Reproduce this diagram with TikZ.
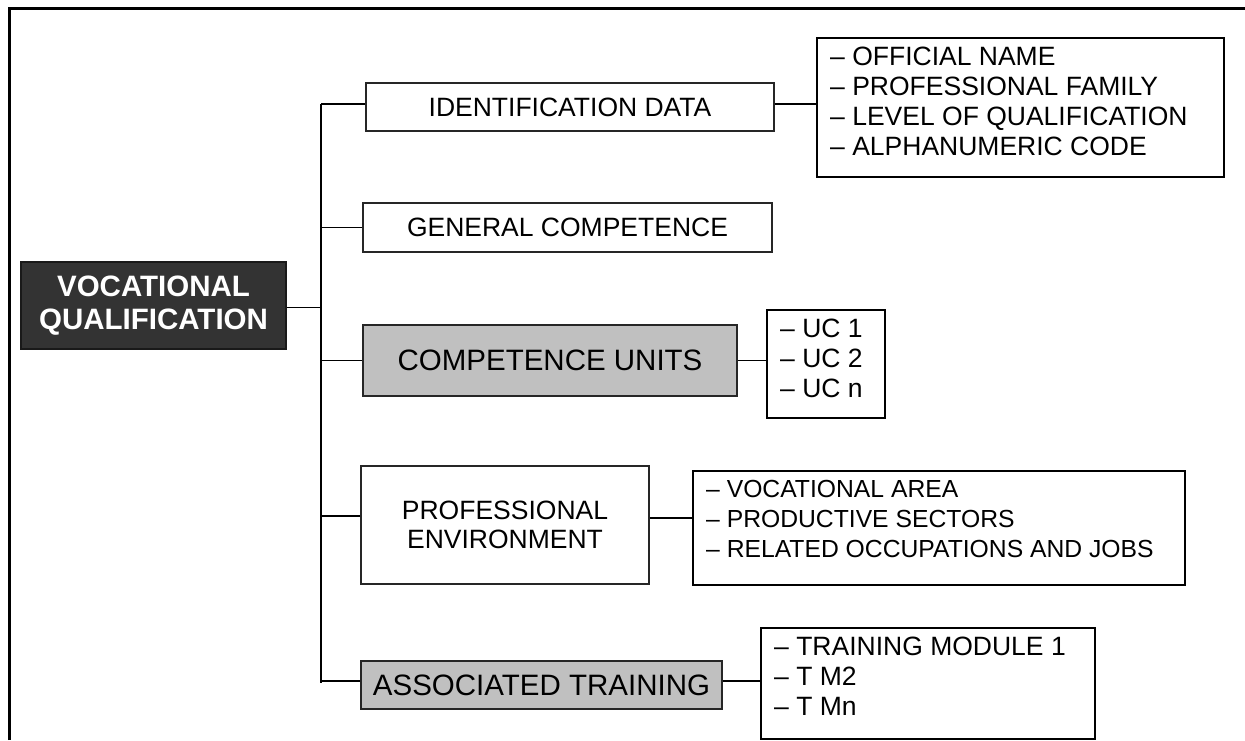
\documentclass[tikz,border=0pt]{standalone}
\usepackage{fontspec}
\setmainfont{Liberation Sans}
\definecolor{cellgray}{HTML}{C0C0C0}
\definecolor{darkfill}{HTML}{333333}
\newcommand{\blist}[3]{\begin{minipage}[c][#2][t]{#1}\raggedright\leftskip=13pt\relax\vspace*{9pt}#3\end{minipage}}
\begin{document}
\begin{tikzpicture}[x=1pt,y=-1pt,
  box/.style={draw=black!85, line width=1.6pt, rectangle, inner sep=0pt, align=center,
              font=\fontsize{26.5}{29}\selectfont},
  bigbox/.style={box, fill=cellgray, font=\fontsize{29.5}{33}\selectfont},
  rootbox/.style={draw=black!90, line width=1.6pt, fill=darkfill, text=white, inner sep=0pt,
              align=center, font=\fontsize{29.5}{33}\bfseries\selectfont},
  listbox/.style={draw=black, line width=2.4pt, rectangle, inner sep=0pt, anchor=north west,
              font=\fontsize{26.5}{30}\selectfont},
  smalllist/.style={listbox, font=\fontsize{24.7}{30}\selectfont},
  conn/.style={line width=1.8pt, draw=black},
  frameline/.style={line width=3pt, draw=black}
]
\useasboundingbox (0,0) rectangle (1245,740);
\draw[frameline] (9,740) -- (9,8) -- (1245,8);

% root
\node[rootbox, minimum width=265pt, minimum height=87pt] (vq) at (153.5,305.5) {\raisebox{3pt}{\parbox{250pt}{\centering VOCATIONAL\\QUALIFICATION}}};

% branch boxes
\node[box, minimum width=408pt, minimum height=48pt] (id) at (570,107) {IDENTIFICATION DATA};
\node[box, minimum width=409pt, minimum height=49pt] (gc) at (567.5,227.5) {GENERAL COMPETENCE};
\node[bigbox, minimum width=374pt, minimum height=71pt] (cu) at (550,360.5) {COMPETENCE UNITS};
\node[box, minimum width=288pt, minimum height=118pt] (pe) at (505,525) {PROFESSIONAL\\ENVIRONMENT};
\node[bigbox, minimum width=361pt, minimum height=48pt] (at) at (541.5,685) {ASSOCIATED TRAINING};

% list boxes
\node[listbox] (idl) at (816,37) {\blist{407pt}{139pt}{– OFFICIAL NAME\\– PROFESSIONAL FAMILY\\– LEVEL OF QUALIFICATION\\– ALPHANUMERIC CODE}};
\node[listbox] (cul) at (766,309) {\blist{118pt}{108pt}{– UC 1\\– UC 2\\– UC n}};
\node[smalllist] (pel) at (692,470) {\blist{492pt}{114pt}{– VOCATIONAL AREA\\– PRODUCTIVE SECTORS\\– RELATED OCCUPATIONS AND JOBS}};
\node[listbox] (atl) at (760,627) {\blist{334pt}{111pt}{– TRAINING MODULE 1\\– T M2\\– T Mn}};

% spine
\coordinate (sT) at (321,104);
\coordinate (sB) at (321,683);
\draw[conn] (sT) -- (sB);

% connectors to spine
\draw[conn] ([yshift=-2pt]vq.east) -- ([yshift=-2pt]vq.east -| sT);
\draw[conn] ([yshift=3pt]id.west) -- ([yshift=3pt]id.west -| sT);
\draw[conn] (gc.west) -- (gc.west -| sT);
\draw[conn] (cu.west) -- (cu.west -| sT);
\draw[conn] ([yshift=9pt]pe.west) -- ([yshift=9pt]pe.west -| sT);
\draw[conn] ([yshift=4pt]at.west) -- ([yshift=4pt]at.west -| sT);

% connectors to lists
\draw[conn] ([yshift=3pt]id.east) -- ([yshift=3pt]id.east -| idl.west);
\draw[conn] (cu.east) -- (cu.east -| cul.west);
\draw[conn] ([yshift=7pt]pe.east) -- ([yshift=7pt]pe.east -| pel.west);
\draw[conn] ([yshift=4pt]at.east) -- ([yshift=4pt]at.east -| atl.west);
\end{tikzpicture}
\end{document}
